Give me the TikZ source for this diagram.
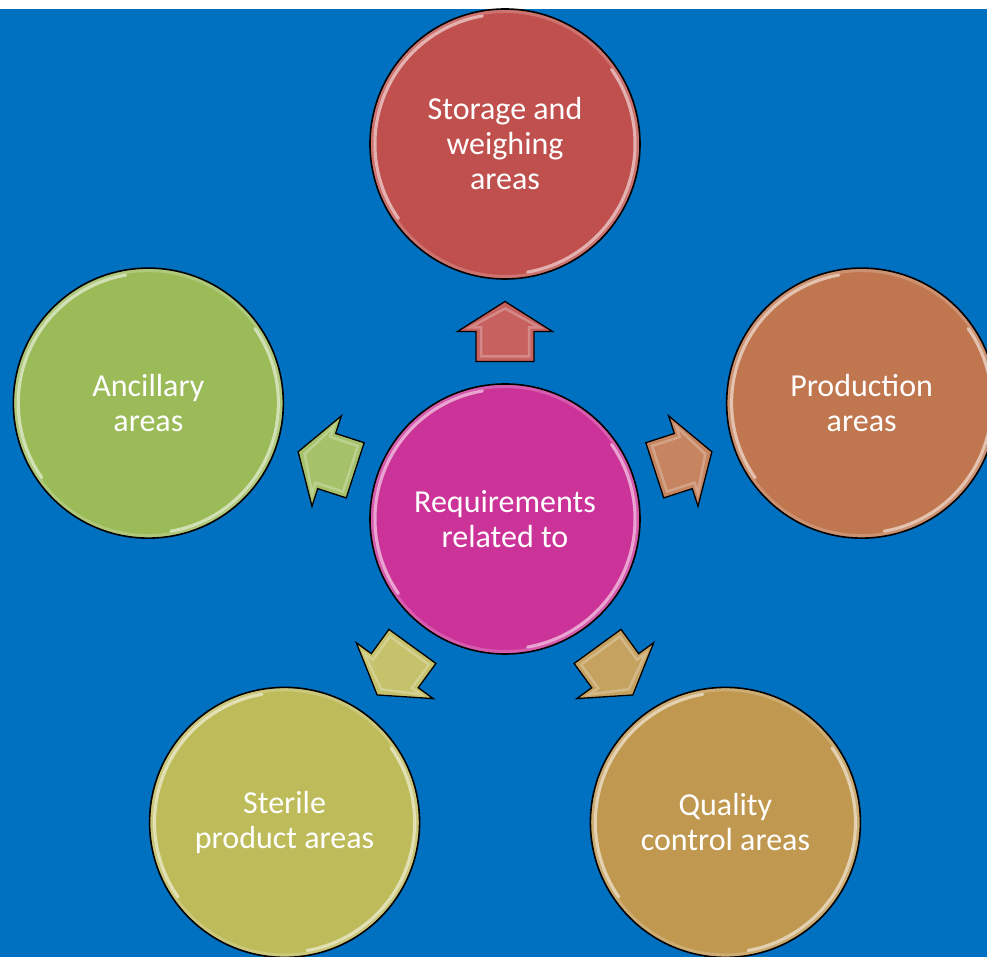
\documentclass[tikz,border=0pt]{standalone}
\usepackage{fontspec}
\setmainfont{Carlito}
\usetikzlibrary{calc}

\definecolor{bgblue}{RGB}{0,112,192}
\definecolor{reqmagenta}{RGB}{204,51,153}
\definecolor{storagered}{RGB}{192,80,77}
\definecolor{productionbrown}{RGB}{192,118,78}
\definecolor{qualitygold}{RGB}{192,152,80}
\definecolor{sterileolive}{RGB}{190,187,90}
\definecolor{ancillarygreen}{RGB}{155,187,89}

\begin{document}
\begin{tikzpicture}[thick,
    area/.style={circle, draw=black, line width=1.6pt, minimum size=270pt, inner sep=0pt,
        align=center, text=white, font=\fontsize{32}{35}\selectfont,
        path picture={
            \draw[white, opacity=.2, line width=8pt]
                (path picture bounding box.center) circle[radius=135pt];
            \draw[white, opacity=.55, line width=3pt, line cap=round]
                ($(path picture bounding box.center)+(100:130pt)$) arc[start angle=100, end angle=215, radius=130pt];
            \draw[white, opacity=.55, line width=3pt, line cap=round]
                ($(path picture bounding box.center)+(280:130pt)$) arc[start angle=280, end angle=395, radius=130pt];
        }},
    pics/blockarrow/.style={code={
        \filldraw[fill=#1, draw=black, line width=1.3pt]
            (-30pt,-29pt) -- (0pt,-29pt) -- (0pt,-47.5pt) -- (30pt,0pt)
            -- (0pt,47.5pt) -- (0pt,29pt) -- (-30pt,29pt) -- cycle;
        \draw[white, opacity=.25, line width=2.5pt]
            (-25pt,-24pt) -- (4pt,-24pt) -- (4pt,-35pt) -- (23pt,0pt)
            -- (4pt,35pt) -- (4pt,24pt) -- (-25pt,24pt) -- cycle;
    }}]

    % page and background
    \useasboundingbox (-505pt,-438pt) rectangle (482pt,519pt);
    \fill[white] (-505pt,-438pt) rectangle (482pt,519pt);
    \fill[bgblue] (-505pt,-438pt) rectangle (482pt,510pt);

    \node[area, fill=reqmagenta] (0) at (0,0) {Requirements\\related to};

    \node[area, fill=storagered] (1) at (90:375pt) {Storage and\\weighing\\areas};
    \node[area, fill=productionbrown] (2) at (18:375pt) {Production\\areas};
    \node[area, fill=qualitygold] (3) at (-54:375pt) {Quality\\control areas};
    \node[area, fill=sterileolive] (4) at (-126:375pt) {Sterile\\product areas};
    \node[area, fill=ancillarygreen] (5) at (162:375pt) {Ancillary\\areas};

    % arrows half way between the middle and each area
    \pic[rotate=90] at ($(0)!0.5!(1)$) {blockarrow=storagered!90!white};
    \pic[rotate=18] at ($(0)!0.5!(2)$) {blockarrow=productionbrown!90!white};
    \pic[rotate=-54] at ($(0)!0.5!(3)$) {blockarrow=qualitygold!90!white};
    \pic[rotate=-126] at ($(0)!0.5!(4)$) {blockarrow=sterileolive!90!white};
    \pic[rotate=162] at ($(0)!0.5!(5)$) {blockarrow=ancillarygreen!90!white};
\end{tikzpicture}
\end{document}
